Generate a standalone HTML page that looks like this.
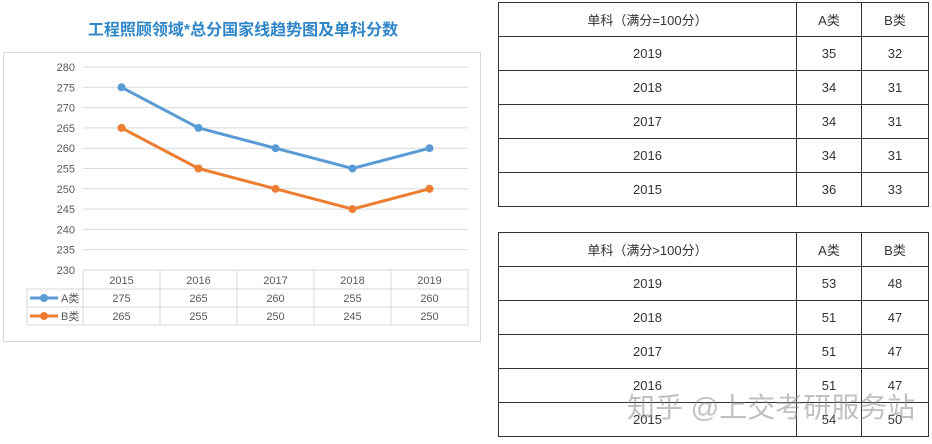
<!DOCTYPE html>
<html><head><meta charset="utf-8">
<style>
body{margin:0;width:932px;height:444px;background:#fff;position:relative;overflow:hidden;font-family:"Liberation Sans","Noto Sans CJK SC",sans-serif}
table.t{position:absolute;border-collapse:collapse;left:498px;width:431px;font-size:13px;color:#333}
table.t td{border:1px solid #333;height:33px;padding:0;text-align:center}
.wm{position:absolute;left:627px;top:386px;font-size:28px;color:rgba(140,140,140,0.55);white-space:nowrap}
</style></head><body>
<div style="position:absolute;left:0;width:486px;top:16px;text-align:center;font-size:16px;font-weight:bold;color:#2f86c8">工程照顾领域*总分国家线趋势图及单科分数</div>
<svg id="ch" width="490" height="350" style="position:absolute;left:0;top:0"></svg>
<table class="t" style="top:2px">
<colgroup><col style="width:298px"><col style="width:65px"><col style="width:67px"></colgroup>
<tr><td>单科（满分=100分）</td><td>A类</td><td>B类</td></tr>
<tr><td>2019</td><td>35</td><td>32</td></tr>
<tr><td>2018</td><td>34</td><td>31</td></tr>
<tr><td>2017</td><td>34</td><td>31</td></tr>
<tr><td>2016</td><td>34</td><td>31</td></tr>
<tr><td>2015</td><td>36</td><td>33</td></tr>
</table>
<table class="t" style="top:232px">
<colgroup><col style="width:298px"><col style="width:65px"><col style="width:67px"></colgroup>
<tr><td>单科（满分&gt;100分）</td><td>A类</td><td>B类</td></tr>
<tr><td>2019</td><td>53</td><td>48</td></tr>
<tr><td>2018</td><td>51</td><td>47</td></tr>
<tr><td>2017</td><td>51</td><td>47</td></tr>
<tr><td>2016</td><td>51</td><td>47</td></tr>
<tr><td>2015</td><td>54</td><td>50</td></tr>
</table>
<div class="wm">知乎 @上交考研服务站</div>
<script>
const categories=["2015","2016","2017","2018","2019"];
const seriesA=[275,265,260,255,260];
const seriesB=[265,255,250,245,250];
const yTicks=[230,235,240,245,250,255,260,265,270,275,280];
const NS="http://www.w3.org/2000/svg";
const svg=document.getElementById('ch');
const X0=83,X1=468,Y0=270,Y1=67,ymin=230,ymax=280;
const bw=(X1-X0)/categories.length;
const x=i=>X0+bw*(i+0.5);
const y=v=>Y0-(v-ymin)/(ymax-ymin)*(Y0-Y1);
function el(t,a,p){const e=document.createElementNS(NS,t);for(const k in a)e.setAttribute(k,a[k]);(p||svg).appendChild(e);return e;}
const frame=el('rect',{x:3.5,y:52.5,width:477,height:289,fill:'none',stroke:'#d9d9d9'});


yTicks.forEach(v=>{
 const g=el('line',{x1:X0,x2:X1,y1:y(v),y2:y(v),stroke:'#d9d9d9'});
 
 
 const t=el('text',{x:75,y:y(v)+4,'text-anchor':'end','font-size':11,fill:'#595959'});
 t.textContent=v;
 
 
});
const rowsY=[270,289,307,325];
rowsY.forEach((ry,i)=>{const l=el('line',{x1:i==0?X0:27,x2:X1,y1:ry,y2:ry,stroke:'#d9d9d9'});});
for(let i=0;i<=categories.length;i++){const l=el('line',{x1:X0+bw*i,x2:X0+bw*i,y1:270,y2:325,stroke:'#d9d9d9'});}
{const l=el('line',{x1:27,x2:27,y1:289,y2:325,stroke:'#d9d9d9'});}
categories.forEach((c,i)=>{
 const t=el('text',{x:x(i),y:284,'text-anchor':'middle','font-size':11,fill:'#595959'});t.textContent=c;
 
 
 const a=el('text',{x:x(i),y:302,'text-anchor':'middle','font-size':11,fill:'#595959'});a.textContent=seriesA[i];
 
 
 const b=el('text',{x:x(i),y:320,'text-anchor':'middle','font-size':11,fill:'#595959'});b.textContent=seriesB[i];
 
 
});
function series(vals,col,name,ly,label){
 const p=el('polyline',{points:vals.map((v,i)=>x(i)+','+y(v)).join(' '),fill:'none',stroke:col,'stroke-width':3});
 
 
 vals.forEach((v,i)=>{const c=el('circle',{cx:x(i),cy:y(v),r:4,fill:col});});
 const k=el('line',{x1:30,x2:58,y1:ly,y2:ly,stroke:col,'stroke-width':3});
 const kc=el('circle',{cx:44,cy:ly,r:4,fill:col});
 const t=el('text',{x:61,y:ly+4,'font-size':11,fill:'#595959'});t.textContent=label;
 
 
}
series(seriesA,'#5b9bd5','series-a',298,'A类');
series(seriesB,'#ed7d31','series-b',316,'B类');
</script>
</body></html>
